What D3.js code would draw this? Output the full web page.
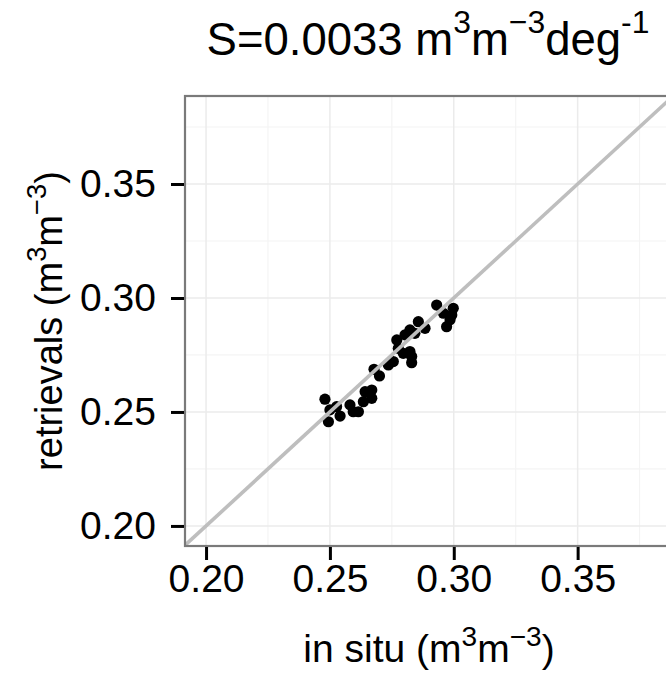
<!DOCTYPE html>
<html>
<head>
<meta charset="utf-8">
<script src="https://cdn.jsdelivr.net/npm/d3@7"></script>
<style>
  body { margin: 0; background: #fff; }
  svg { display: block; font-family: "Liberation Sans", Arial, sans-serif; }
</style>
</head>
<body>
<svg id="chart" width="666" height="673"></svg>
<script>
// in situ vs retrieved soil moisture (m3 m-3)
const inSitu = [
  0.2480, 0.2494, 0.2500, 0.2527, 0.2541, 0.2581, 0.2594, 0.2615, 0.2635, 0.2642,
  0.2669, 0.2669, 0.2678, 0.2700, 0.2736, 0.2756, 0.2770, 0.2776, 0.2796, 0.2803,
  0.2823, 0.2823, 0.2830, 0.2830, 0.2857, 0.2884, 0.2843, 0.2931, 0.2958, 0.2998,
  0.2985, 0.2971, 0.2992
];
const retrievals = [
  0.2556, 0.2457, 0.2509, 0.2523, 0.2482, 0.2531, 0.2501, 0.2501, 0.2545, 0.2589,
  0.2596, 0.2560, 0.2687, 0.2658, 0.2706, 0.2721, 0.2816, 0.2779, 0.2757, 0.2838,
  0.2860, 0.2765, 0.2743, 0.2716, 0.2896, 0.2867, 0.2845, 0.2969, 0.2933, 0.2955,
  0.2904, 0.2874, 0.2925
];
const tickValues = [0.20, 0.25, 0.30, 0.35];
const minorValues = [0.225, 0.275, 0.325, 0.375];

const svg = d3.select("#chart");
const panel = { left: 185, top: 96, right: 673, bottom: 546 };

const x = d3.scaleLinear().domain([0.1915, 0.3885]).range([panel.left, panel.right]);
const y = d3.scaleLinear().domain([0.1912, 0.3886]).range([panel.bottom, panel.top]);

svg.append("defs").append("clipPath").attr("id", "clip")
  .append("rect")
  .attr("x", panel.left).attr("y", panel.top)
  .attr("width", panel.right - panel.left).attr("height", panel.bottom - panel.top);

const g = svg.append("g").attr("clip-path", "url(#clip)");

// minor grid
g.selectAll(".minx").data(minorValues).join("line")
  .attr("x1", d => x(d)).attr("x2", d => x(d))
  .attr("y1", panel.top).attr("y2", panel.bottom)
  .attr("stroke", "#f4f4f4").attr("stroke-width", 1.2);
g.selectAll(".miny").data(minorValues).join("line")
  .attr("y1", d => y(d)).attr("y2", d => y(d))
  .attr("x1", panel.left).attr("x2", panel.right)
  .attr("stroke", "#f4f4f4").attr("stroke-width", 1.2);

// major grid
g.selectAll(".majx").data(tickValues).join("line")
  .attr("x1", d => x(d)).attr("x2", d => x(d))
  .attr("y1", panel.top).attr("y2", panel.bottom)
  .attr("stroke", "#ebebeb").attr("stroke-width", 1.5);
g.selectAll(".majy").data(tickValues).join("line")
  .attr("y1", d => y(d)).attr("y2", d => y(d))
  .attr("x1", panel.left).attr("x2", panel.right)
  .attr("stroke", "#ebebeb").attr("stroke-width", 1.5);

// points
g.selectAll("circle").data(inSitu).join("circle")
  .attr("cx", d => x(d))
  .attr("cy", (d, i) => y(retrievals[i]))
  .attr("r", 5.6)
  .attr("fill", "#000");

// 1:1 line
g.append("line")
  .attr("x1", x(0.18)).attr("y1", y(0.18))
  .attr("x2", x(0.40)).attr("y2", y(0.40))
  .attr("stroke", "#bebebe").attr("stroke-width", 3.6);

// panel border
svg.append("rect")
  .attr("x", panel.left).attr("y", panel.top)
  .attr("width", panel.right - panel.left).attr("height", panel.bottom - panel.top)
  .attr("fill", "none").attr("stroke", "#7a7a7a").attr("stroke-width", 2.2);

// axes
const xAxis = d3.axisBottom(x).tickValues(tickValues).tickFormat(d3.format(".2f"))
  .tickSize(13).tickPadding(4);
const yAxis = d3.axisLeft(y).tickValues(tickValues).tickFormat(d3.format(".2f"))
  .tickSize(13).tickPadding(15);

const gx = svg.append("g").attr("transform", `translate(0,${panel.bottom + 1})`).call(xAxis);
const gy = svg.append("g").attr("transform", `translate(${panel.left - 1},0)`).call(yAxis);

[gx, gy].forEach(a => {
  a.attr("font-size", null).attr("font-family", null);
  a.select(".domain").remove();
  a.selectAll(".tick line").attr("stroke", "#000").attr("stroke-width", 3);
  a.selectAll(".tick text").attr("fill", "#000").attr("font-size", 39);
});
gx.selectAll(".tick text").attr("dy", "0.72em");

// title and axis titles with superscripts
function superText(sel, parts, size, ratio, raise) {
  let shift = 0;
  parts.forEach(p => {
    const target = p.sup ? -raise : 0;
    sel.append("tspan").text(p.t)
      .attr("font-size", p.sup ? size * ratio : size)
      .attr("dy", target - shift);
    shift = target;
  });
}

const title = svg.append("text")
  .attr("x", 428).attr("y", 55)
  .attr("text-anchor", "middle").attr("fill", "#000");
superText(title, [
  { t: "S=0.0033 m" }, { t: "3", sup: true }, { t: "m" }, { t: "\u22123", sup: true },
  { t: "deg" }, { t: "-1", sup: true }
], 45.5, 0.7, 22);

const xTitle = svg.append("text")
  .attr("x", 429).attr("y", 662)
  .attr("text-anchor", "middle").attr("fill", "#000");
superText(xTitle, [
  { t: "in situ (m" }, { t: "3", sup: true }, { t: "m" }, { t: "\u22123", sup: true }, { t: ")" }
], 39, 0.72, 16);

const yTitle = svg.append("text")
  .attr("transform", "translate(62,321) rotate(-90)")
  .attr("text-anchor", "middle").attr("fill", "#000");
superText(yTitle, [
  { t: "retrievals (m" }, { t: "3", sup: true }, { t: "m" }, { t: "\u22123", sup: true }, { t: ")" }
], 38, 0.72, 16);
</script>
</body>
</html>
